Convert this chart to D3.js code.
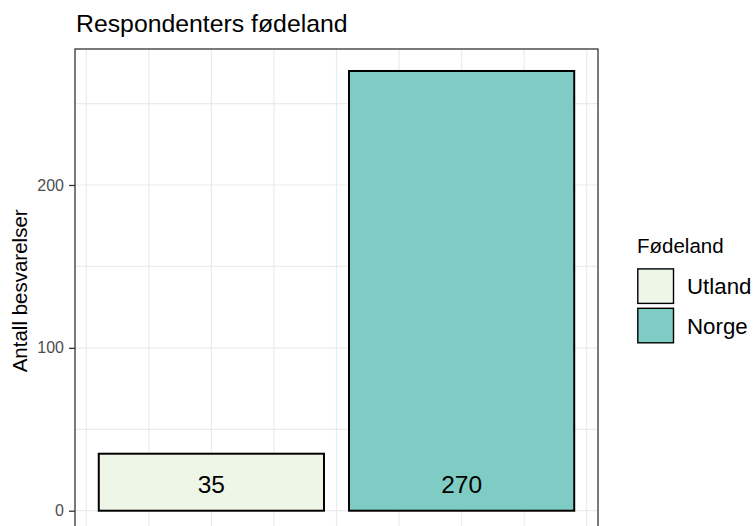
<!DOCTYPE html>
<html><head><meta charset="utf-8">
<script src="https://cdn.jsdelivr.net/npm/d3@7"></script>
<style>html,body{margin:0;padding:0;background:#fff;} svg{display:block;font-family:"Liberation Sans",Arial,Helvetica,sans-serif;}</style>
</head><body>
<script>
const categories = ["Utland", "Norge"];
const counts = [35, 270];
const fills = ["#EEF7E7", "#7ECCC4"];
const yMajorTicks = [0, 100, 200];
const yMinorTicks = [50, 150, 250];
const xGridBreaks = [0.5, 0.75, 1, 1.25, 1.5, 1.75, 2, 2.25, 2.5];
const titleText = "Respondenters fødeland";
const yTitle = "Antall besvarelser";
const legendTitle = "Fødeland";

const W = 754, H = 526;
const panel = {left: 75, right: 598, top: 49, bottom: 532.7};
const svg = d3.select("body").append("svg").attr("width", W).attr("height", H);

const barWidth = 0.9;
const xMin = 1 - barWidth / 2, xMax = categories.length + barWidth / 2;
const xPad = (xMax - xMin) * 0.05;
const x = d3.scaleLinear().domain([xMin - xPad, xMax + xPad]).range([panel.left, panel.right]);
const yMaxV = d3.max(counts);
const y = d3.scaleLinear().domain([-yMaxV * 0.05, yMaxV * 1.05]).range([panel.bottom, panel.top]);

svg.append("rect").attr("x", panel.left).attr("y", panel.top)
  .attr("width", panel.right - panel.left).attr("height", panel.bottom - panel.top).attr("fill", "#fff");

const grid = svg.append("g");
grid.selectAll("line.xg").data(xGridBreaks).join("line")
  .attr("x1", d => x(d)).attr("x2", d => x(d)).attr("y1", panel.top).attr("y2", panel.bottom)
  .attr("stroke", "#EBEBEB").attr("stroke-width", 1.2);
grid.selectAll("line.ymin").data(yMinorTicks).join("line")
  .attr("x1", panel.left).attr("x2", panel.right).attr("y1", d => y(d)).attr("y2", d => y(d))
  .attr("stroke", "#EBEBEB").attr("stroke-width", 1.2);
grid.selectAll("line.ymaj").data(yMajorTicks).join("line")
  .attr("x1", panel.left).attr("x2", panel.right).attr("y1", d => y(d)).attr("y2", d => y(d))
  .attr("stroke", "#EBEBEB").attr("stroke-width", 1.2);

const bars = categories.map((c, i) => ({c, v: counts[i], f: fills[i], pos: i + 1}));
svg.append("g").selectAll("rect").data(bars).join("rect")
  .attr("x", d => x(d.pos - barWidth / 2)).attr("width", d => x(d.pos + barWidth / 2) - x(d.pos - barWidth / 2))
  .attr("y", d => y(d.v)).attr("height", d => y(0) - y(d.v))
  .attr("fill", d => d.f).attr("stroke", "#000").attr("stroke-width", 2);

svg.append("g").selectAll("text").data(bars).join("text")
  .attr("x", d => x(d.pos)).attr("y", y(16.5)).attr("dy", "0.36em")
  .attr("text-anchor", "middle").attr("font-size", 24.5).attr("fill", "#000")
  .text(d => d.v);

svg.append("rect").attr("x", panel.left).attr("y", panel.top)
  .attr("width", panel.right - panel.left).attr("height", panel.bottom - panel.top)
  .attr("fill", "none").attr("stroke", "#333").attr("stroke-width", 1.3);

const yAxis = d3.axisLeft(y).tickValues(yMajorTicks).tickSize(6).tickPadding(5);
const ya = svg.append("g").attr("transform", `translate(${panel.left},0)`).call(yAxis);
ya.select(".domain").remove();
ya.selectAll(".tick line").attr("stroke", "#333").attr("stroke-width", 1.3);
ya.selectAll(".tick text").attr("fill", "#4D4D4D").attr("font-size", 16)
  .attr("font-family", "Liberation Sans, Arial, sans-serif");

svg.append("text").attr("transform", `translate(26.5,${(panel.top + panel.bottom) / 2}) rotate(-90)`)
  .attr("text-anchor", "middle").attr("font-size", 20.5).attr("fill", "#000").text(yTitle);

svg.append("text").attr("x", 76).attr("y", 31.5).attr("font-size", 24.8).attr("fill", "#000").text(titleText);

const lg = svg.append("g");
lg.append("text").attr("x", 637).attr("y", 253).attr("font-size", 20.5).attr("fill", "#000").text(legendTitle);
const keyStep = 39.4, keySize = 35.7;
bars.forEach((d, i) => {
  const ky = 268.3 + i * keyStep;
  lg.append("rect").attr("x", 637.8).attr("y", ky + 0.6).attr("width", keySize).attr("height", keySize - 1.2)
    .attr("fill", d.f).attr("stroke", "#000").attr("stroke-width", 1.4);
  lg.append("text").attr("x", 687).attr("y", ky + keySize / 2).attr("dy", "0.36em")
    .attr("font-size", 22.3).attr("fill", "#000").text(d.c);
});
</script>
</body></html>
